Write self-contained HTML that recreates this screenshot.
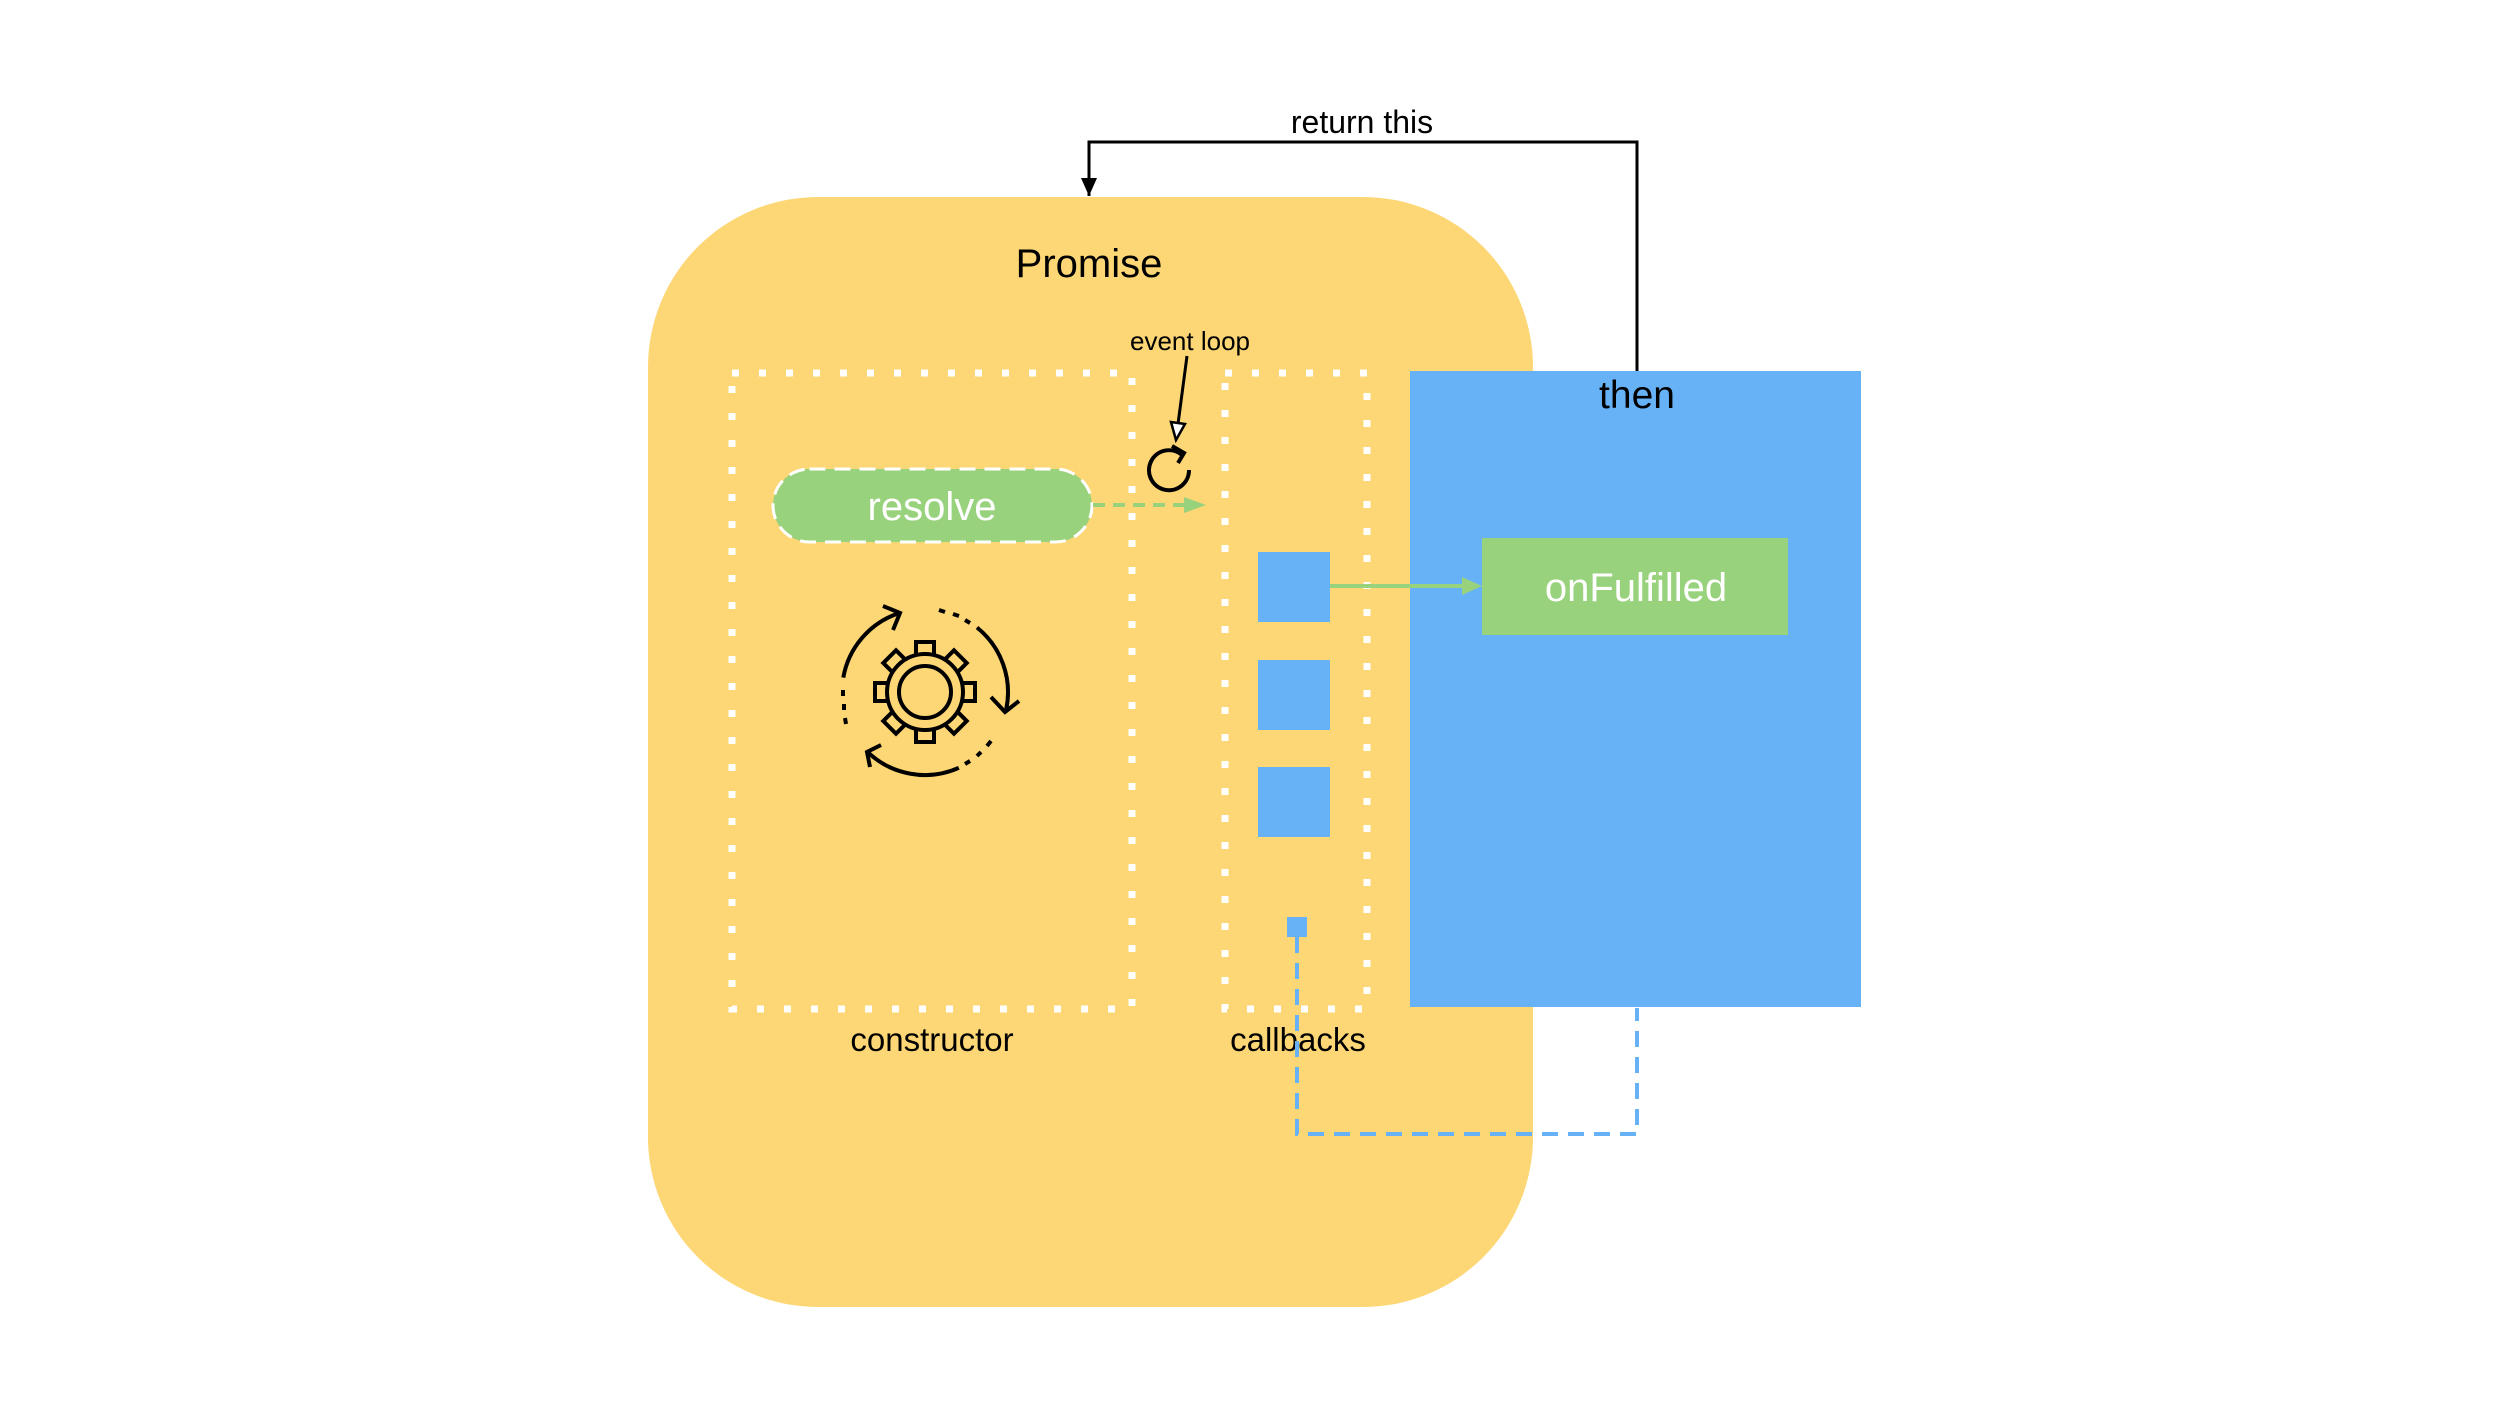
<!DOCTYPE html>
<html><head><meta charset="utf-8"><style>
html,body{margin:0;padding:0;background:#fff}
svg text{font-family:"Liberation Sans",sans-serif}
</style></head><body>
<svg width="2500" height="1406" viewBox="0 0 2500 1406" xmlns="http://www.w3.org/2000/svg">
<!-- Promise -->
<rect x="648" y="197" width="885" height="1110" rx="170" ry="170" fill="#fdd775"/>
<text x="1089" y="277" font-size="40" text-anchor="middle" fill="#000">Promise</text>
<!-- dotted rects -->
<rect x="732" y="373" width="400" height="636" fill="none" stroke="#fff" stroke-width="7" stroke-dasharray="7 20"/>
<rect x="1225" y="373" width="142" height="636" fill="none" stroke="#fff" stroke-width="7" stroke-dasharray="7 20"/>
<text x="932" y="1051" font-size="33" text-anchor="middle">constructor</text>
<text x="1298" y="1051" font-size="33" text-anchor="middle">callbacks</text>
<!-- then box -->
<rect x="1410" y="371" width="451" height="636" fill="#67b2f7"/>
<text x="1637" y="408" font-size="39" text-anchor="middle">then</text>
<!-- return this -->
<polyline points="1637,371 1637,142 1089,142 1089,196" fill="none" stroke="#000" stroke-width="3"/>
<path d="M1081,178 L1089,196 L1097,178 Z" fill="#000"/>
<text x="1362" y="133" font-size="32" text-anchor="middle">return this</text>
<!-- resolve -->
<rect x="773" y="469" width="319" height="73" rx="36.5" fill="#98d27c" stroke="#fff" stroke-width="3" stroke-dasharray="16 9"/>
<text x="932" y="520" font-size="40" text-anchor="middle" fill="#fff">resolve</text>
<line x1="1093" y1="505" x2="1185" y2="505" stroke="#98d27c" stroke-width="4" stroke-dasharray="12 8"/>
<path d="M1184,497 L1206,505 L1184,513 Z" fill="#98d27c"/>
<!-- event loop -->
<text x="1190" y="350" font-size="26" text-anchor="middle">event loop</text>
<line x1="1187" y1="356" x2="1178" y2="424" stroke="#000" stroke-width="3"/>
<path d="M1171,422 L1176,440 L1185,424 Z" fill="#fff" stroke="#000" stroke-width="2.5"/>
<path d="M1182,455 A20,20 0 1 0 1189,470" fill="none" stroke="#000" stroke-width="4"/>
<path d="M1172,446 L1184,453 L1178,463" fill="none" stroke="#000" stroke-width="4"/>
<!-- callback squares -->
<rect x="1258" y="552" width="72" height="70" fill="#67b2f7"/>
<rect x="1258" y="660" width="72" height="70" fill="#67b2f7"/>
<rect x="1258" y="767" width="72" height="70" fill="#67b2f7"/>
<rect x="1287" y="917" width="20" height="20" fill="#67b2f7"/>
<polyline points="1297,937 1297,1134 1637,1134 1637,1008" fill="none" stroke="#67b2f7" stroke-width="4" stroke-dasharray="16 10"/>
<!-- onFulfilled -->
<rect x="1482" y="538" width="306" height="97" fill="#98d27c"/>
<text x="1636" y="601" font-size="40" text-anchor="middle" fill="#fff">onFulfilled</text>
<line x1="1330" y1="586" x2="1464" y2="586" stroke="#98d27c" stroke-width="4"/>
<path d="M1462,577 L1482,586 L1462,595 Z" fill="#98d27c"/>
<!-- gear icon -->
<g transform="translate(925,692)" fill="none" stroke="#000" stroke-width="4">
  <g fill="#fdd775">
    <rect x="-9" y="-50" width="18" height="18" transform="rotate(0)"/>
    <rect x="-9" y="-50" width="18" height="18" transform="rotate(45)"/>
    <rect x="-9" y="-50" width="18" height="18" transform="rotate(90)"/>
    <rect x="-9" y="-50" width="18" height="18" transform="rotate(135)"/>
    <rect x="-9" y="-50" width="18" height="18" transform="rotate(180)"/>
    <rect x="-9" y="-50" width="18" height="18" transform="rotate(225)"/>
    <rect x="-9" y="-50" width="18" height="18" transform="rotate(270)"/>
    <rect x="-9" y="-50" width="18" height="18" transform="rotate(315)"/>
    <circle r="38"/>
  </g>
  <circle r="26"/>
  <path d="M-81.7,-14.4 A83,83 0 0 1 -27,-78.5"/>
  <path d="M-42,-86 L-25,-79 L-32,-62"/>
  <path d="M-82,-2 L-82,4 M-81,12 L-81,18 M-80,26 L-79,32"/>
  <path d="M52,-64.5 A83,83 0 0 1 81.2,17.3"/>
  <path d="M66,5 L80,20 L94,9"/>
  <path d="M14,-82 L20,-80 M28,-78 L34,-76 M40,-72 L45,-69"/>
  <path d="M33.8,75.8 A83,83 0 0 1 -57.7,59.7"/>
  <path d="M-44,53 L-58,60 L-55,75"/>
  <path d="M40,72 L45,69 M52,64 L56,60 M62,54 L66,49"/>
</g>
</svg>
</body></html>
